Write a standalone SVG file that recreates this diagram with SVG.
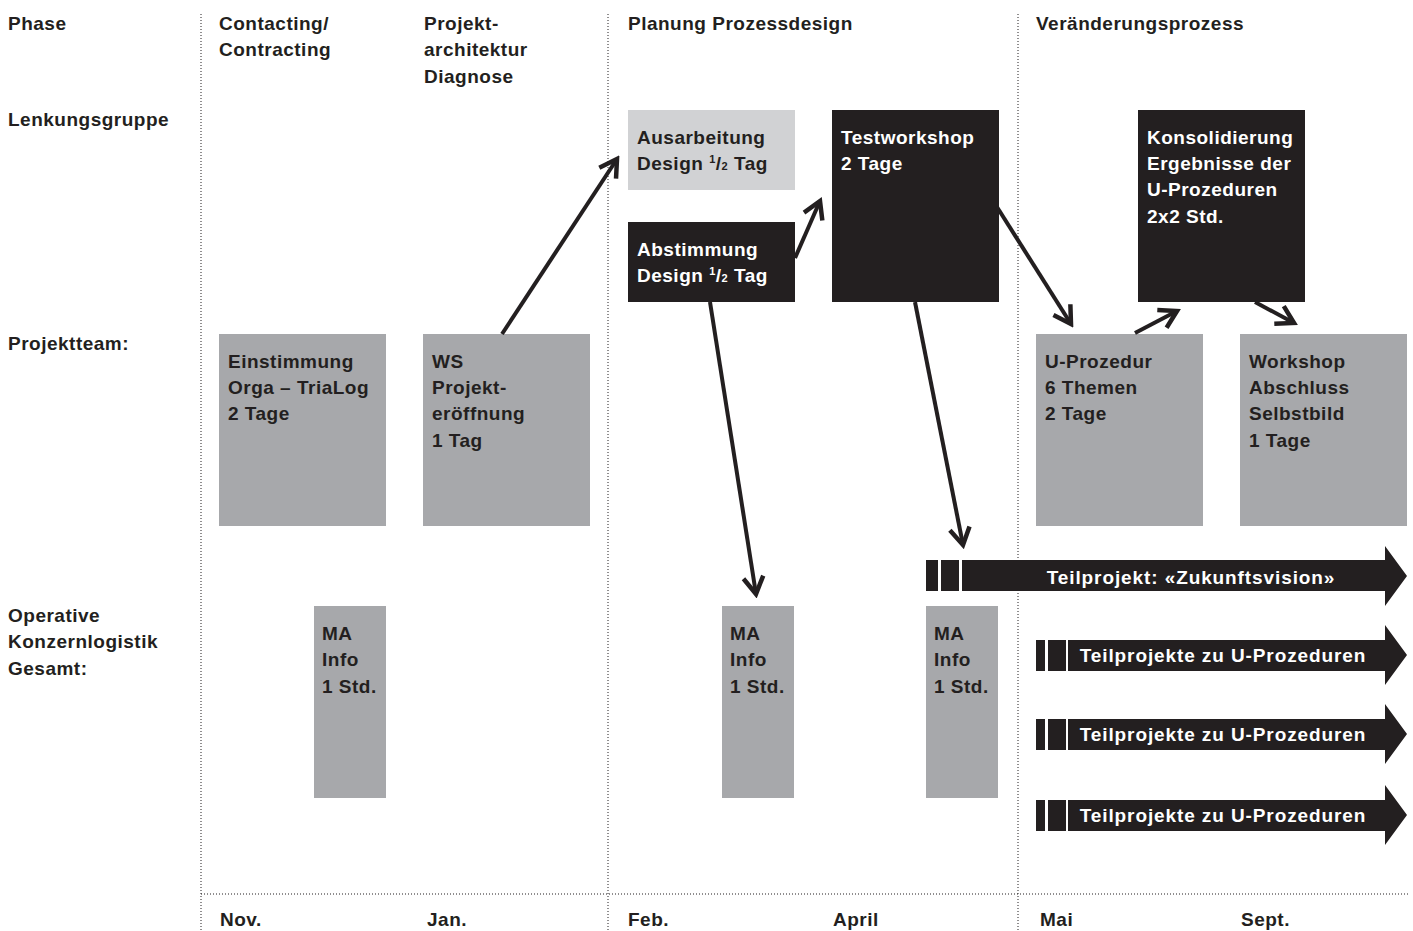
<svg xmlns="http://www.w3.org/2000/svg" width="1413" height="931" viewBox="0 0 1413 931">
<defs>
<style>
text{font-family:"Liberation Sans",Arial,sans-serif;font-weight:bold;font-size:19px;letter-spacing:0.5px;fill:#231f20}
.w{fill:#ffffff}
.g{fill:#a7a8ab}
.lg{fill:#d1d2d4}
.k{fill:#231f20}
.dot{stroke:#231f20;stroke-width:1;stroke-dasharray:1 2;fill:none}
.arr{stroke:#231f20;stroke-width:4;fill:none;marker-end:url(#ah)}
.sm{font-size:11px}
.big{text-anchor:middle;letter-spacing:0.9px}
</style>
<marker id="ah" markerUnits="userSpaceOnUse" viewBox="-22 -13 26 26" markerWidth="26" markerHeight="26" refX="0" refY="0" orient="auto">
<path d="M-17,-10 L0,0 L-17,10" fill="none" stroke="#231f20" stroke-width="4.5"/>
</marker>
</defs>
<rect width="1413" height="931" fill="#ffffff"/>

<g id="grid">
<line class="dot" x1="201" y1="14" x2="201" y2="931"/>
<line class="dot" x1="608" y1="14" x2="608" y2="931"/>
<line class="dot" x1="1018" y1="14" x2="1018" y2="931"/>
<line class="dot" x1="201" y1="894" x2="1408" y2="894"/>
</g>

<g id="row-labels">
<text x="8" y="30">Phase</text>
<text x="8" y="126">Lenkungsgruppe</text>
<text x="8" y="350">Projektteam:</text>
<text x="8" y="622">Operative</text>
<text x="8" y="648">Konzernlogistik</text>
<text x="8" y="675">Gesamt:</text>
</g>

<g id="phase-headers">
<text x="219" y="30">Contacting/</text>
<text x="219" y="56">Contracting</text>
<text x="424" y="30">Projekt-</text>
<text x="424" y="56">architektur</text>
<text x="424" y="83">Diagnose</text>
<text x="628" y="30">Planung Prozessdesign</text>
<text x="1036" y="30">Veränderungsprozess</text>
</g>

<g id="months">
<text x="220" y="926">Nov.</text>
<text x="427" y="926">Jan.</text>
<text x="628" y="926">Feb.</text>
<text x="833" y="926">April</text>
<text x="1040" y="926">Mai</text>
<text x="1241" y="926">Sept.</text>
</g>

<g id="ausarbeitung">
<rect class="lg" x="628" y="110" width="167" height="80"/>
<text x="637" y="144">Ausarbeitung</text>
<text x="637" y="170">Design <tspan class="sm" dy="-7">1</tspan><tspan dy="7">/</tspan><tspan class="sm">2</tspan> Tag</text>
</g>

<g id="abstimmung">
<rect class="k" x="628" y="222" width="167" height="80"/>
<text class="w" x="637" y="256">Abstimmung</text>
<text class="w" x="637" y="282">Design <tspan class="sm" dy="-7">1</tspan><tspan dy="7">/</tspan><tspan class="sm">2</tspan> Tag</text>
</g>

<g id="testworkshop">
<rect class="k" x="832" y="110" width="167" height="192"/>
<text class="w" x="841" y="144">Testworkshop</text>
<text class="w" x="841" y="170">2 Tage</text>
</g>

<g id="konsolidierung">
<rect class="k" x="1138" y="110" width="167" height="192"/>
<text class="w" x="1147" y="144">Konsolidierung</text>
<text class="w" x="1147" y="170">Ergebnisse der</text>
<text class="w" x="1147" y="196">U-Prozeduren</text>
<text class="w" x="1147" y="223">2x2 Std.</text>
</g>

<g id="einstimmung">
<rect class="g" x="219" y="334" width="167" height="192"/>
<text x="228" y="368">Einstimmung</text>
<text x="228" y="394">Orga – TriaLog</text>
<text x="228" y="420">2 Tage</text>
</g>

<g id="ws-projekt">
<rect class="g" x="423" y="334" width="167" height="192"/>
<text x="432" y="368">WS</text>
<text x="432" y="394">Projekt-</text>
<text x="432" y="420">eröffnung</text>
<text x="432" y="447">1 Tag</text>
</g>

<g id="u-prozedur">
<rect class="g" x="1036" y="334" width="167" height="192"/>
<text x="1045" y="368">U-Prozedur</text>
<text x="1045" y="394">6 Themen</text>
<text x="1045" y="420">2 Tage</text>
</g>

<g id="workshop-abschluss">
<rect class="g" x="1240" y="334" width="167" height="192"/>
<text x="1249" y="368">Workshop</text>
<text x="1249" y="394">Abschluss</text>
<text x="1249" y="420">Selbstbild</text>
<text x="1249" y="447">1 Tage</text>
</g>

<g id="ma-info-1">
<rect class="g" x="314" y="606" width="72" height="192"/>
<text x="322" y="640">MA</text>
<text x="322" y="666">Info</text>
<text x="322" y="693">1 Std.</text>
</g>

<g id="ma-info-2">
<rect class="g" x="722" y="606" width="72" height="192"/>
<text x="730" y="640">MA</text>
<text x="730" y="666">Info</text>
<text x="730" y="693">1 Std.</text>
</g>

<g id="ma-info-3">
<rect class="g" x="926" y="606" width="72" height="192"/>
<text x="934" y="640">MA</text>
<text x="934" y="666">Info</text>
<text x="934" y="693">1 Std.</text>
</g>

<g id="zukunftsvision">
<rect class="k" x="926" y="560" width="12" height="31"/>
<rect class="k" x="941" y="560" width="18" height="31"/>
<path class="k" d="M962,560 L1385,560 L1385,546 L1407,576 L1385,606 L1385,591 L962,591 Z"/>
<text class="w big" x="1191" y="584">Teilprojekt: «Zukunftsvision»</text>
</g>

<g id="teilprojekte-1">
<rect class="k" x="1036" y="640" width="9" height="31"/>
<rect class="k" x="1048" y="640" width="18" height="31"/>
<path class="k" d="M1068,640 L1385,640 L1385,625 L1407,655 L1385,685 L1385,671 L1068,671 Z"/>
<text class="w big" x="1223" y="662">Teilprojekte zu U-Prozeduren</text>
</g>

<g id="teilprojekte-2">
<rect class="k" x="1036" y="719" width="9" height="31"/>
<rect class="k" x="1048" y="719" width="18" height="31"/>
<path class="k" d="M1068,719 L1385,719 L1385,704 L1407,734 L1385,764 L1385,750 L1068,750 Z"/>
<text class="w big" x="1223" y="741">Teilprojekte zu U-Prozeduren</text>
</g>

<g id="teilprojekte-3">
<rect class="k" x="1036" y="800" width="9" height="31"/>
<rect class="k" x="1048" y="800" width="18" height="31"/>
<path class="k" d="M1068,800 L1385,800 L1385,785 L1407,815 L1385,845 L1385,831 L1068,831 Z"/>
<text class="w big" x="1223" y="822">Teilprojekte zu U-Prozeduren</text>
</g>

<g id="connectors">
<line class="arr" x1="502" y1="334" x2="617" y2="159"/>
<line class="arr" x1="795" y1="258" x2="820" y2="201"/>
<line class="arr" x1="710" y1="302" x2="756" y2="594"/>
<line class="arr" x1="915" y1="302" x2="963" y2="545"/>
<line class="arr" x1="997" y1="207" x2="1071" y2="324"/>
<line class="arr" x1="1135" y1="333" x2="1177" y2="311"/>
<line class="arr" x1="1255" y1="302" x2="1294" y2="323"/>
</g>
</svg>
